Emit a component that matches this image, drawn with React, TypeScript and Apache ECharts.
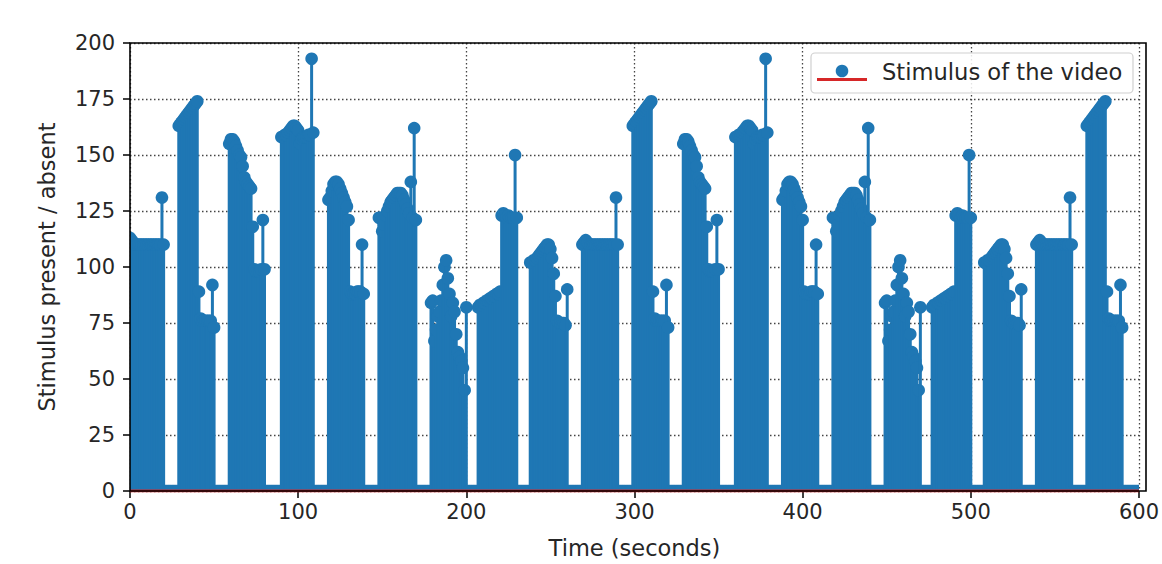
import React, { useEffect, useRef } from "react";
import * as echarts from "echarts";

// ---- data (time in seconds, stimulus value) ----
const xTickValues = [0, 100, 200, 300, 400, 500, 600];
const yTickValues = [0, 25, 50, 75, 100, 125, 150, 175, 200];

const blockStarts = [0, 29, 59, 90, 118, 148, 179, 207, 238, 269, 299, 329, 360, 388, 418, 449, 477, 508, 539, 569];

const blockA = [113, 112, 111, 110, 110, 110, 110, 110, 110, 110, 110, 110, 110, 110, 110, 110, 110, 110, 110, 131, 110];
const blockB = [163, 164, 165, 166, 167, 168, 169, 170, 171, 172, 173, 174, 89, 77, 76, 76, 76, 76, 76, 76, 92, 73];
const blockC = [155, 157, 157, 156, 154, 152, 150, 149, 145, 140, 138, 137, 136, 135, 118, 99, 98, 98, 98, 99, 121, 99];
const blockD = [158, 158, 159, 159, 160, 161, 162, 163, 163, 162, 161, 155, 157, 158, 158, 158, 159, 159, 193, 160];
const blockE = [130, 131, 134, 137, 138, 138, 137, 135, 133, 131, 129, 127, 121, 89, 88, 88, 88, 89, 89, 89, 110, 88];
const blockF = [122, 122, 116, 119, 123, 125, 127, 129, 130, 131, 132, 133, 133, 133, 132, 130, 128, 126, 124, 138, 122, 162, 121];
const blockG = [84, 85, 67, 72, 78, 80, 85, 92, 100, 103, 95, 88, 78, 84, 80, 70, 62, 60, 58, 55, 45, 82];
const blockH = [82, 83, 83, 84, 84, 85, 85, 86, 86, 87, 87, 88, 88, 89, 123, 124, 123, 122, 123, 122, 122, 122, 150, 122];
const blockI = [102, 102, 103, 103, 104, 105, 106, 107, 108, 109, 110, 110, 108, 104, 97, 87, 76, 75, 75, 75, 75, 74, 90];
const blockJ = [110, 111, 112, 111, 110, 110, 110, 110, 110, 110, 110, 110, 110, 110, 110, 110, 110, 110, 110, 110, 131, 110];
const blockK = [163, 164, 165, 166, 167, 168, 169, 170, 171, 172, 173, 174, 89, 77, 76, 76, 76, 76, 76, 76, 92, 73];
const blockL = [155, 157, 157, 156, 154, 152, 150, 149, 145, 140, 138, 137, 136, 135, 118, 99, 98, 98, 98, 99, 121, 99];
const blockM = [158, 158, 159, 159, 160, 161, 162, 163, 163, 162, 161, 155, 157, 158, 158, 158, 159, 159, 193, 160];
const blockN = [130, 131, 134, 137, 138, 138, 137, 135, 133, 131, 129, 127, 121, 89, 88, 88, 88, 89, 89, 89, 110, 88];
const blockO = [122, 122, 116, 119, 123, 125, 127, 129, 130, 131, 132, 133, 133, 133, 132, 130, 128, 126, 124, 138, 122, 162, 121];
const blockP = [84, 85, 67, 72, 78, 80, 85, 92, 100, 103, 95, 88, 78, 84, 80, 70, 62, 60, 58, 55, 45, 82];
const blockQ = [82, 83, 83, 84, 84, 85, 85, 86, 86, 87, 87, 88, 88, 89, 123, 124, 123, 122, 123, 122, 122, 122, 150, 122];
const blockR = [102, 102, 103, 103, 104, 105, 106, 107, 108, 109, 110, 110, 108, 104, 97, 87, 76, 75, 75, 75, 75, 74, 90];
const blockS = [110, 111, 112, 111, 110, 110, 110, 110, 110, 110, 110, 110, 110, 110, 110, 110, 110, 110, 110, 110, 131, 110];
const blockT = [163, 164, 165, 166, 167, 168, 169, 170, 171, 172, 173, 174, 89, 77, 76, 76, 76, 76, 76, 76, 92, 73];

const blockValues = [blockA, blockB, blockC, blockD, blockE, blockF, blockG, blockH, blockI, blockJ,
  blockK, blockL, blockM, blockN, blockO, blockP, blockQ, blockR, blockS, blockT];

const timeMax = 600;
const seriesName = "Stimulus of the video";

const BLUE = "#1f77b4";
const RED = "#d62728";
const FONT = "DejaVu Sans";

// build the stem table: one stem per second, 0 where no stimulus
function buildStems(): number[][] {
  const vals: number[] = [];
  for (let t = 0; t <= timeMax; t++) vals.push(0);
  blockStarts.forEach((s, i) => {
    blockValues[i].forEach((v, j) => {
      vals[s + j] = v;
    });
  });
  return vals.map((v, t) => [t, v]);
}

const G_LEFT = 130;
const G_TOP = 43;
const G_W = 1016;
const G_H = 448;

export default function App() {
  const ref = useRef<HTMLDivElement>(null);
  useEffect(() => {
    if (!ref.current) return;
    const chart = echarts.init(ref.current, null, { renderer: "svg" });
    const stems = buildStems();
    const option: any = {
      animation: false,
      backgroundColor: "#ffffff",
      textStyle: { fontFamily: FONT },
      grid: { left: G_LEFT, top: G_TOP, width: G_W, height: G_H, show: false },
      xAxis: {
        type: "value",
        min: 0,
        max: 600,
        interval: 100,
        name: "Time (seconds)",
        nameLocation: "middle",
        nameGap: 45,
        nameTextStyle: { fontFamily: FONT, fontSize: 22.5, color: "#262626" },
        axisLine: { show: false },
        axisTick: { show: true, length: 7, lineStyle: { color: "#000", width: 1.5 } },
        axisLabel: {
          fontFamily: FONT,
          fontSize: 21,
          color: "#262626",
          margin: 10,
          formatter: (v: number) => (xTickValues.includes(v) ? String(v) : ""),
        },
        splitLine: { show: true, lineStyle: { color: "#444", width: 1.3, type: [1.5, 2.5] } },
      },
      yAxis: {
        type: "value",
        min: 0,
        max: 200,
        interval: 25,
        name: "Stimulus present / absent",
        nameLocation: "middle",
        nameGap: 72,
        nameTextStyle: { fontFamily: FONT, fontSize: 22.5, color: "#262626" },
        axisLine: { show: false },
        axisTick: { show: true, length: 7, lineStyle: { color: "#000", width: 1.5 } },
        axisLabel: {
          fontFamily: FONT,
          fontSize: 21,
          color: "#262626",
          margin: 15,
          formatter: (v: number) => (yTickValues.includes(v) ? String(v) : ""),
        },
        splitLine: { show: true, lineStyle: { color: "#444", width: 1.3, type: [1.5, 2.5] } },
      },
      series: [
        {
          type: "custom",
          name: seriesName,
          clip: true,
          encode: { x: 0, y: 1 },
          data: stems,
          renderItem: (params: any, api: any) => {
            const t = api.value(0);
            const v = api.value(1);
            const base = api.coord([t, 0]);
            const top = api.coord([t, v]);
            return {
              type: "group",
              children: [
                {
                  type: "line",
                  shape: { x1: base[0], y1: base[1], x2: top[0], y2: top[1] },
                  style: { stroke: BLUE, lineWidth: 3 },
                },
                {
                  type: "circle",
                  shape: { cx: top[0], cy: top[1], r: 6.3 },
                  style: { fill: BLUE },
                },
              ],
            };
          },
          z: 2,
        },
        {
          type: "line",
          name: "baseline",
          data: [[0, 0], [timeMax, 0]],
          symbol: "none",
          lineStyle: { color: RED, width: 3 },
          z: 3,
        },
      ],
      graphic: [
        {
          type: "rect",
          z: 100,
          shape: { x: G_LEFT, y: G_TOP, width: G_W, height: G_H },
          style: { fill: "none", stroke: "#000", lineWidth: 1.6 },
        },
        {
          type: "rect",
          z: 100,
          shape: { x: 811, y: 53, width: 322, height: 40, r: 4 },
          style: { fill: "rgba(255,255,255,0.85)", stroke: "#d0d0d0", lineWidth: 1.2 },
        },
        {
          type: "line",
          z: 101,
          shape: { x1: 817, y1: 79.5, x2: 867, y2: 79.5 },
          style: { stroke: RED, lineWidth: 3 },
        },
        {
          type: "circle",
          z: 101,
          shape: { cx: 842, cy: 71, r: 6.3 },
          style: { fill: BLUE },
        },
        {
          type: "text",
          z: 101,
          x: 882,
          y: 72,
          style: {
            text: seriesName,
            fontFamily: FONT,
            fontSize: 22.6,
            fill: "#262626",
            verticalAlign: "middle",
            align: "left",
          },
        },
      ],
    };
    chart.setOption(option);
    return () => chart.dispose();
  }, []);
  return (
    <div
      ref={ref}
      style={{ position: "fixed", left: 0, top: 0, width: 1162, height: 564, background: "#fff" }}
    />
  );
}
